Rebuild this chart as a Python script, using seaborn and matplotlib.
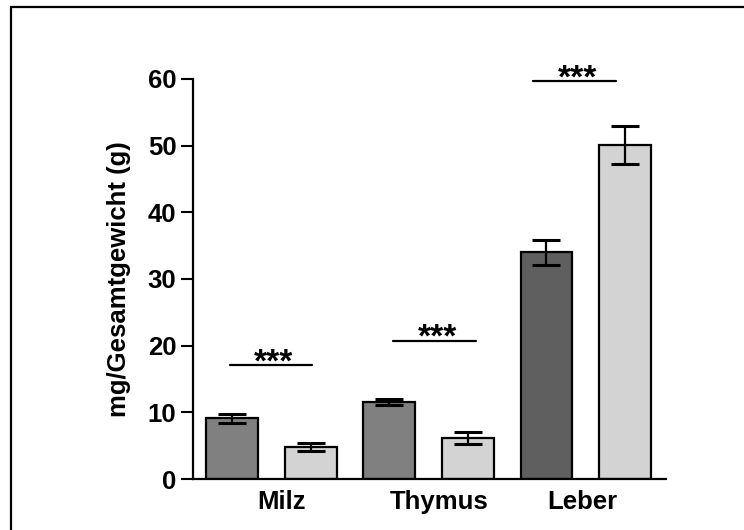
import numpy as np
import pandas as pd
import matplotlib
matplotlib.use("Agg")
import matplotlib.pyplot as plt
import seaborn as sns
from matplotlib.patches import Rectangle

# ---- data ----
bars = ["Milz_a", "Milz_b", "Thymus_a", "Thymus_b", "Leber_a", "Leber_b"]
values = [9.1, 4.8, 11.5, 6.15, 34.0, 50.05]
errors = [0.63, 0.65, 0.45, 0.95, 1.85, 2.85]
organs = ["Milz", "Thymus", "Leber"]
sig_heights = [17.1, 20.75, 59.7]
sig_labels = ["***", "***", "***"]
yticks = [0, 10, 20, 30, 40, 50, 60]
ylabel = "mg/Gesamtgewicht (g)"

colors = ["#808080", "#d3d3d3", "#808080", "#d3d3d3", "#5f5f5f", "#d3d3d3"]

sns.set_theme(style="white")
plt.rcParams["font.family"] = ["Liberation Sans", "DejaVu Sans"]
plt.rcParams["font.weight"] = "bold"
plt.rcParams["text.color"] = "black"
plt.rcParams["axes.labelcolor"] = "black"
plt.rcParams["xtick.color"] = "black"
plt.rcParams["ytick.color"] = "black"

fig = plt.figure(figsize=(7.44, 5.30), dpi=100)
ax = fig.add_axes([0.2594, 0.0962, 0.8952 - 0.2594, 0.851 - 0.0962])

df = pd.DataFrame({"bar": bars, "value": values})
sns.barplot(data=df, x="bar", y="value", hue="bar", palette=colors,
            legend=False, width=0.66, edgecolor="black", linewidth=1.6,
            errorbar=None, ax=ax, zorder=2)

xpos = np.arange(len(bars))
ax.errorbar(xpos, values, yerr=errors, fmt="none", ecolor="black",
            elinewidth=1.6, capsize=10, capthick=2.2, zorder=3)

# significance lines
sig_spans = [(-0.03, 1.02), (2.05, 3.10), (3.83, 4.89)]
for (x0, x1), h, lab in zip(sig_spans, sig_heights, sig_labels):
    ax.plot([x0, x1], [h, h], color="black", lw=1.6, clip_on=False, zorder=4)
    ax.text((x0 + x1) / 2 + 0.035, h - 0.95, lab, ha="center", va="baseline",
            fontsize=24, fontweight="bold", color="black", clip_on=False)

ax.set_xlim(-0.495, 5.52)
ax.set_ylim(0, 60)
ax.set_yticks(yticks)
ax.set_yticklabels([str(t) for t in yticks], fontsize=18.5, fontweight="bold",
                   color="black")
ax.set_xticks([0.63, 2.64, 4.46])
ax.set_xticklabels(organs, fontsize=18.5, fontweight="bold", color="black")
ax.tick_params(axis="x", length=0, pad=8)
ax.tick_params(axis="y", length=9, width=1.5, direction="out", pad=3, left=True,
               color="black")
ax.set_xlabel("")
ax.set_ylabel(ylabel, fontsize=18.5, fontweight="bold", labelpad=12,
              color="black")

for s in ["top", "right"]:
    ax.spines[s].set_visible(False)
for s in ["left", "bottom"]:
    ax.spines[s].set_color("black")
    ax.spines[s].set_linewidth(1.6)

# outer frame (cropped on right and bottom)
fig.patches.append(Rectangle((11 / 744, -0.2), 1.5, 0.2 + 1 - 7 / 530,
                             transform=fig.transFigure, fill=False,
                             edgecolor="black", linewidth=1.6))

fig.savefig("out.png", dpi=100)
